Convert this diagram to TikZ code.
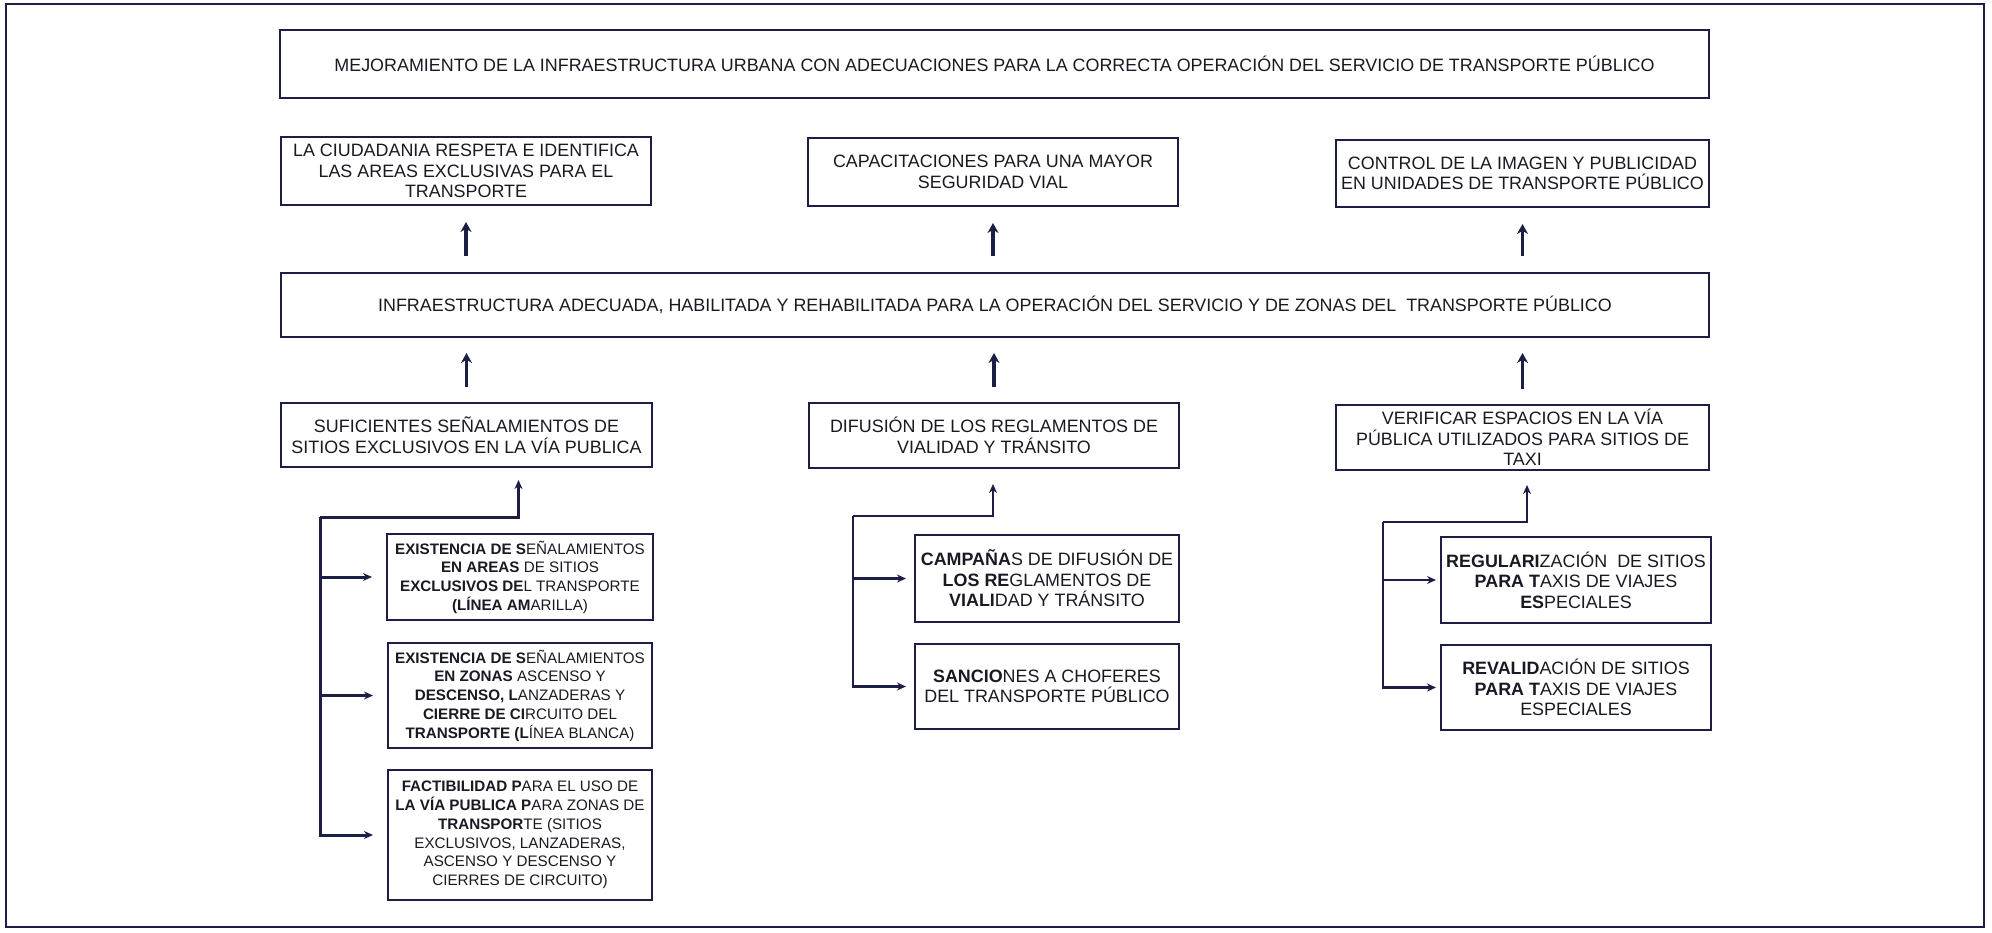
\documentclass[tikz,border=0pt]{standalone}
\usepackage{fontspec}
\setmainfont{Liberation Sans}
\usetikzlibrary{arrows.meta}
\definecolor{ink}{RGB}{28,30,70}
\definecolor{txt}{RGB}{25,25,35}
\begin{document}
\begin{tikzpicture}[x=1pt,y=-1pt,
  box/.style={draw=ink, line width=2pt, inner sep=0pt, align=center, text=txt, font=\fontsize{17.9}{20.6}\selectfont},
  sbox/.style={box, font=\fontsize{15.2}{18.7}\selectfont},
  arr/.style={draw=ink, line width=3.6pt, -{Stealth[length=10pt,width=11pt]}},
  treeA/.style={draw=ink, line width=3pt, -{Stealth[length=9pt,width=8pt]}},
  treeB/.style={draw=ink, line width=2.3pt, -{Stealth[length=9pt,width=8pt]}},
]
\useasboundingbox (0,0) rectangle (1992,932);
\draw[ink, line width=2.2pt] (6,4) rectangle (1984,927);

\node[box, minimum width=1429pt, minimum height=68pt] (T) at (994.5,64)
  {MEJORAMIENTO DE LA INFRAESTRUCTURA URBANA CON ADECUACIONES PARA LA CORRECTA OPERACIÓN DEL SERVICIO DE TRANSPORTE PÚBLICO};

\node[box, minimum width=370pt, minimum height=68pt] (A1) at (466,171)
  {LA CIUDADANIA RESPETA E IDENTIFICA\\LAS AREAS EXCLUSIVAS PARA EL\\TRANSPORTE};
\node[box, minimum width=370pt, minimum height=68pt] (A2) at (993,172)
  {CAPACITACIONES PARA UNA MAYOR\\SEGURIDAD VIAL};
\node[box, minimum width=373pt, minimum height=67pt] (A3) at (1522.5,173.5)
  {CONTROL DE LA IMAGEN Y PUBLICIDAD\\EN UNIDADES DE TRANSPORTE PÚBLICO};

\node[box, minimum width=1428pt, minimum height=64pt] (I) at (995,305)
  {INFRAESTRUCTURA ADECUADA, HABILITADA Y REHABILITADA PARA LA OPERACIÓN DEL SERVICIO Y DE ZONAS DEL \ TRANSPORTE PÚBLICO};

\node[box, minimum width=371pt, minimum height=64pt] (B1) at (466.5,435)
  {SUFICIENTES SEÑALAMIENTOS DE\\SITIOS EXCLUSIVOS EN LA VÍA PUBLICA};
\node[box, minimum width=370pt, minimum height=65pt] (B2) at (994,435.5)
  {DIFUSIÓN DE LOS REGLAMENTOS DE\\VIALIDAD Y TRÁNSITO};
\node[box, minimum width=373pt, minimum height=65pt] (B3) at (1522.5,437.5)
  {VERIFICAR ESPACIOS EN LA VÍA\\PÚBLICA UTILIZADOS PARA SITIOS DE\\TAXI};

\node[sbox, minimum width=266pt, minimum height=86pt] (C1) at (520,577)
  {\textbf{EXISTENCIA DE S}EÑALAMIENTOS\\\textbf{EN AREAS} DE SITIOS\\\textbf{EXCLUSIVOS DE}L TRANSPORTE\\\textbf{(LÍNEA AM}ARILLA)};
\node[sbox, minimum width=264pt, minimum height=105pt] (C2) at (520,695.5)
  {\textbf{EXISTENCIA DE S}EÑALAMIENTOS\\\textbf{EN ZONAS} ASCENSO Y\\\textbf{DESCENSO, L}ANZADERAS Y\\\textbf{CIERRE DE CI}RCUITO DEL\\\textbf{TRANSPORTE (L}ÍNEA BLANCA)};
\node[sbox, minimum width=264pt, minimum height=130pt] (C3) at (520,835)
  {\textbf{FACTIBILIDAD P}ARA EL USO DE\\\textbf{LA VÍA PUBLICA P}ARA ZONAS DE\\\textbf{TRANSPOR}TE (SITIOS\\EXCLUSIVOS, LANZADERAS,\\ASCENSO Y DESCENSO Y\\CIERRES DE CIRCUITO)};

\node[box, minimum width=264pt, minimum height=87pt] (D1) at (1047,578.5)
  {\textbf{CAMPAÑA}S DE DIFUSIÓN DE\\\textbf{LOS RE}GLAMENTOS DE\\\textbf{VIALI}DAD Y TRÁNSITO};
\node[box, minimum width=264pt, minimum height=85pt] (D2) at (1047,686.5)
  {\textbf{SANCIO}NES A CHOFERES\\DEL TRANSPORTE PÚBLICO};

\node[box, minimum width=270pt, minimum height=86pt] (E1) at (1576,580)
  {\textbf{REGULARI}ZACIÓN \ DE SITIOS\\\textbf{PARA T}AXIS DE VIAJES\\\textbf{ES}PECIALES};
\node[box, minimum width=270pt, minimum height=85pt] (E2) at (1576,687.5)
  {\textbf{REVALID}ACIÓN DE SITIOS\\\textbf{PARA T}AXIS DE VIAJES\\ESPECIALES};

% arrows between levels
\draw[arr, shorten <=16pt, shorten >=16pt] (I.north -| A1.south) -- (A1.south);
\draw[arr, shorten <=16pt, shorten >=16pt] (I.north -| A2.south) -- (A2.south);
\draw[arr, shorten <=16pt, shorten >=16pt] (I.north -| A3.south) -- (A3.south);
\draw[arr, shorten <=15pt, shorten >=15pt] (B1.north) -- (B1.north |- I.south);
\draw[arr, shorten <=15pt, shorten >=15pt] (B2.north) -- (B2.north |- I.south);
\draw[arr, shorten <=15pt, shorten >=15pt] (B3.north) -- (B3.north |- I.south);

% tree 1
\coordinate (t1) at (320,517);
\draw[treeA, shorten >=12pt] (t1) -| ([xshift=52pt]B1.south);
\draw[treeA, shorten >=14pt] (t1) |- (C1.west);
\draw[treeA, shorten >=14pt] (t1) |- (C2.west);
\draw[treeA, shorten >=14pt] (t1) |- (C3.west);

% tree 2
\coordinate (t2) at (853,516);
\draw[treeB, shorten >=15pt] (t2) -| ([xshift=-1pt]B2.south);
\draw[treeB, shorten >=8pt] (t2) |- (D1.west);
\draw[treeB, shorten >=8pt] (t2) |- (D2.west);

% tree 3
\coordinate (t3) at (1383,522);
\draw[treeB, shorten >=14pt] (t3) -| ([xshift=4.5pt]B3.south);
\draw[treeB, shorten >=4pt] (t3) |- (E1.west);
\draw[treeB, shorten >=4pt] (t3) |- (E2.west);
\end{tikzpicture}
\end{document}
